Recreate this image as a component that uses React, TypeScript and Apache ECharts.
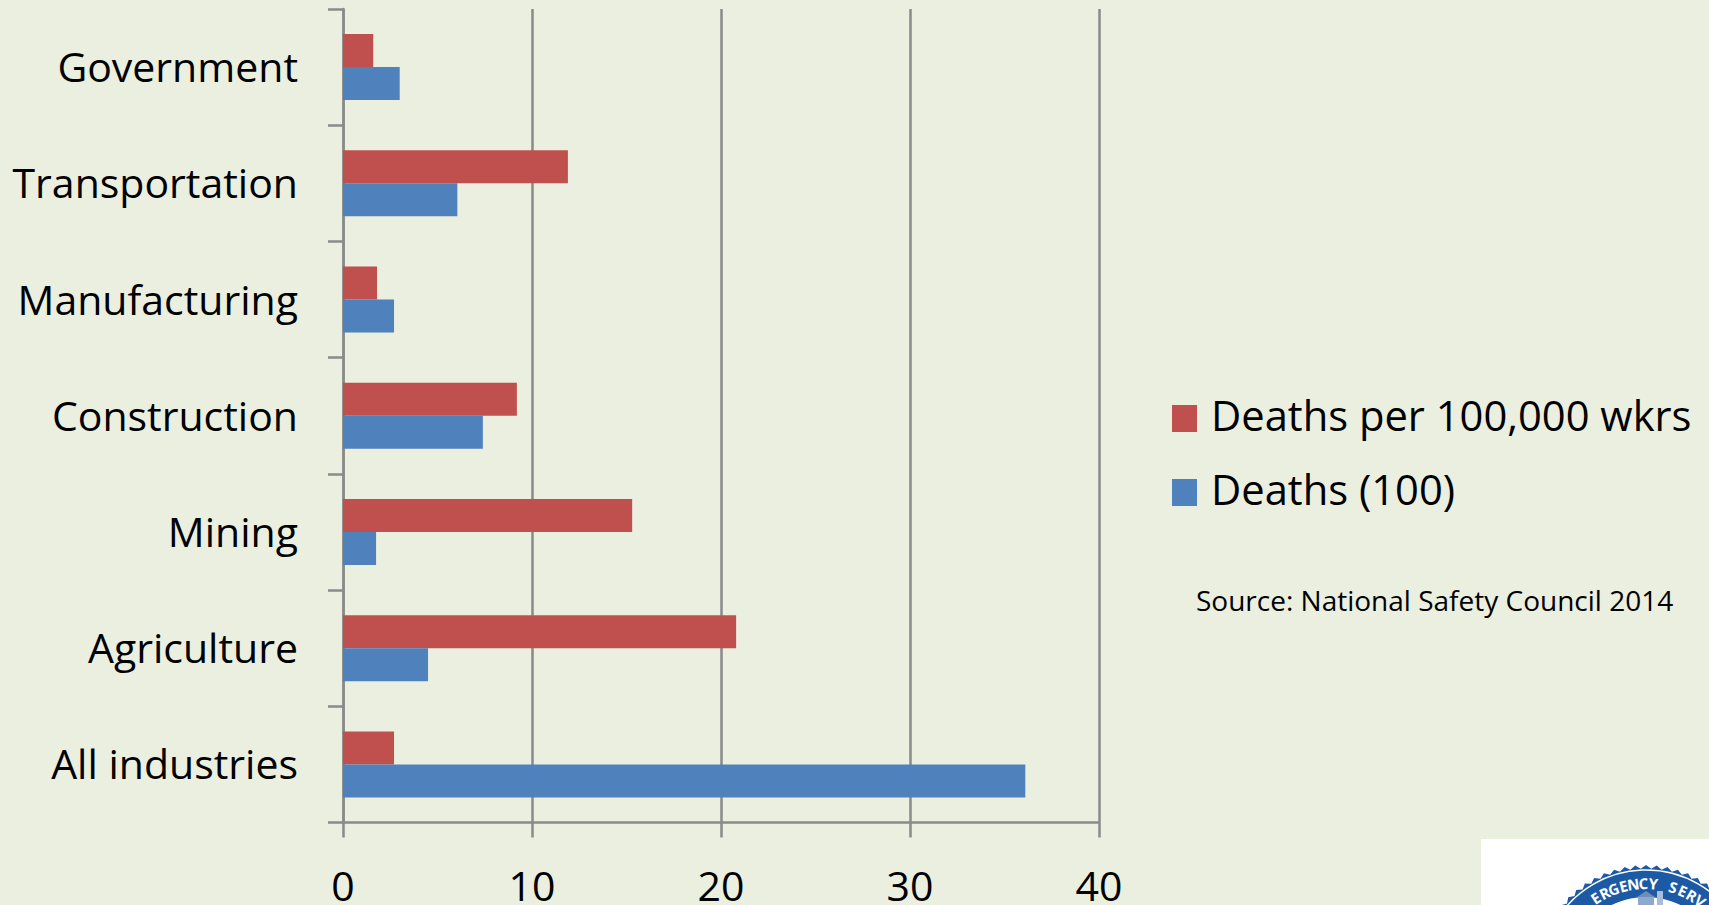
import React, { useEffect, useRef } from "react";
import * as echarts from "echarts";

const categories = ["Government", "Transportation", "Manufacturing", "Construction", "Mining", "Agriculture", "All industries"];
const ratePerWorkers = [1.6, 11.9, 1.8, 9.2, 15.3, 20.8, 2.7];
const deathsHundreds = [3.0, 6.05, 2.7, 7.4, 1.75, 4.5, 36.1];
const xTicks = { min: 0, max: 40, interval: 10 };
const sealLetters = "ERGENCY SERV";

const FONT = "'Open Sans'";
const AXIS_GREY = "#8a8a8a";
const SEAL_BLUE = "#1d5aa6";
// Swatch sits low in its icon box so that it lines up with the legend text.
const SWATCH_ICON = "path://M0,0L25,0L25,0Z M0,9H25V36H0Z";

// Letters set one by one around the top of the seal.
function sealText(cx: number, cy: number, r: number) {
  const step = 0.11;
  const start = -0.58;
  return sealLetters.split("").map((ch, i) => {
    const a = start + i * step;
    return {
      type: "text",
      x: cx + r * Math.sin(a),
      y: cy - r * Math.cos(a),
      rotation: -a,
      style: { text: ch, fill: "#ffffff", font: `bold 15px ${FONT}`, align: "center", verticalAlign: "middle", lineHeight: 14 },
    };
  });
}

// Toothed rim of the seal.
function sealRim(cx: number, cy: number, outer: number, inner: number, teeth: number) {
  const points: number[][] = [];
  for (let i = 0; i < teeth * 2; i++) {
    const a = (i / (teeth * 2)) * Math.PI * 2;
    const r = i % 2 === 0 ? outer : inner;
    points.push([cx + r * Math.sin(a), cy - r * Math.cos(a)]);
  }
  return points;
}

export default function App() {
  const ref = useRef<HTMLDivElement>(null);
  useEffect(() => {
    document.body.style.margin = "0";
    const chart = echarts.init(ref.current!, null, { renderer: "svg" });
    const cx = 1646;
    const cy = 975;
    chart.setOption({
      animation: false,
      backgroundColor: "#ebefdf",
      grid: { left: 343, right: 610, top: 9, bottom: 80 },
      legend: {
        left: 1167,
        top: 388,
        orient: "vertical",
        itemWidth: 25,
        itemHeight: 36,
        itemGap: 32,
        icon: SWATCH_ICON,
        selectedMode: false,
        data: ["Deaths per 100,000 wkrs", "Deaths (100)"],
        textStyle: { fontFamily: FONT, fontSize: 41.7, color: "#000", padding: [0, 0, 0, 9] },
      },
      xAxis: {
        type: "value",
        position: "bottom",
        ...xTicks,
        axisLine: { show: true, lineStyle: { color: AXIS_GREY, width: 2.5 } },
        axisTick: { show: true, length: 15, lineStyle: { color: AXIS_GREY, width: 2.5 } },
        splitLine: { show: true, lineStyle: { color: AXIS_GREY, width: 2.5 } },
        axisLabel: { fontFamily: FONT, fontSize: 41, lineHeight: 36, color: "#000", margin: 44 },
      },
      yAxis: {
        type: "category",
        inverse: true,
        data: categories,
        axisLine: { show: true, onZero: false, lineStyle: { color: AXIS_GREY, width: 2.5 } },
        axisTick: { show: true, length: 15, alignWithLabel: false, lineStyle: { color: AXIS_GREY, width: 2.5 } },
        axisLabel: { fontFamily: FONT, fontSize: 41, color: "#000", margin: 45, verticalAlign: "bottom", lineHeight: 2 },
      },
      series: [
        {
          name: "Deaths per 100,000 wkrs",
          type: "bar",
          data: ratePerWorkers,
          barWidth: 33,
          barGap: "0%",
          itemStyle: { color: "#c0504d" },
        },
        {
          name: "Deaths (100)",
          type: "bar",
          data: deathsHundreds,
          barWidth: 33,
          barGap: "0%",
          itemStyle: { color: "#4f81bd" },
        },
      ],
      graphic: [
        {
          type: "text",
          left: 1196,
          top: 586,
          style: { text: "Source: National Safety Council 2014", fill: "#000", font: `28px ${FONT}` },
        },
        { type: "rect", shape: { x: 1481, y: 839, width: 228, height: 66 }, style: { fill: "#ffffff" } },
        { type: "polygon", shape: { points: sealRim(cx, cy, 110, 106.5, 64) }, style: { fill: SEAL_BLUE } },
        { type: "circle", shape: { cx, cy, r: 105 }, style: { fill: "none", stroke: "#ffffff", lineWidth: 1.5 } },
        { type: "circle", shape: { cx, cy, r: 78 }, style: { fill: "#ffffff" } },
        { type: "group", children: sealText(cx, cy, 92) },
        { type: "rect", shape: { x: 1638, y: 897, width: 16, height: 8 }, style: { fill: "#8fa9cc" } },
        { type: "polygon", shape: { points: [[1637, 897], [1646, 891], [1655, 897]] }, style: { fill: "#6d8dbb" } },
        { type: "rect", shape: { x: 1657, y: 891, width: 6, height: 14 }, style: { fill: "#a9bcd8" } },
      ],
    });
    return () => chart.dispose();
  }, []);
  return <div ref={ref} style={{ width: 1709, height: 905 }} />;
}
